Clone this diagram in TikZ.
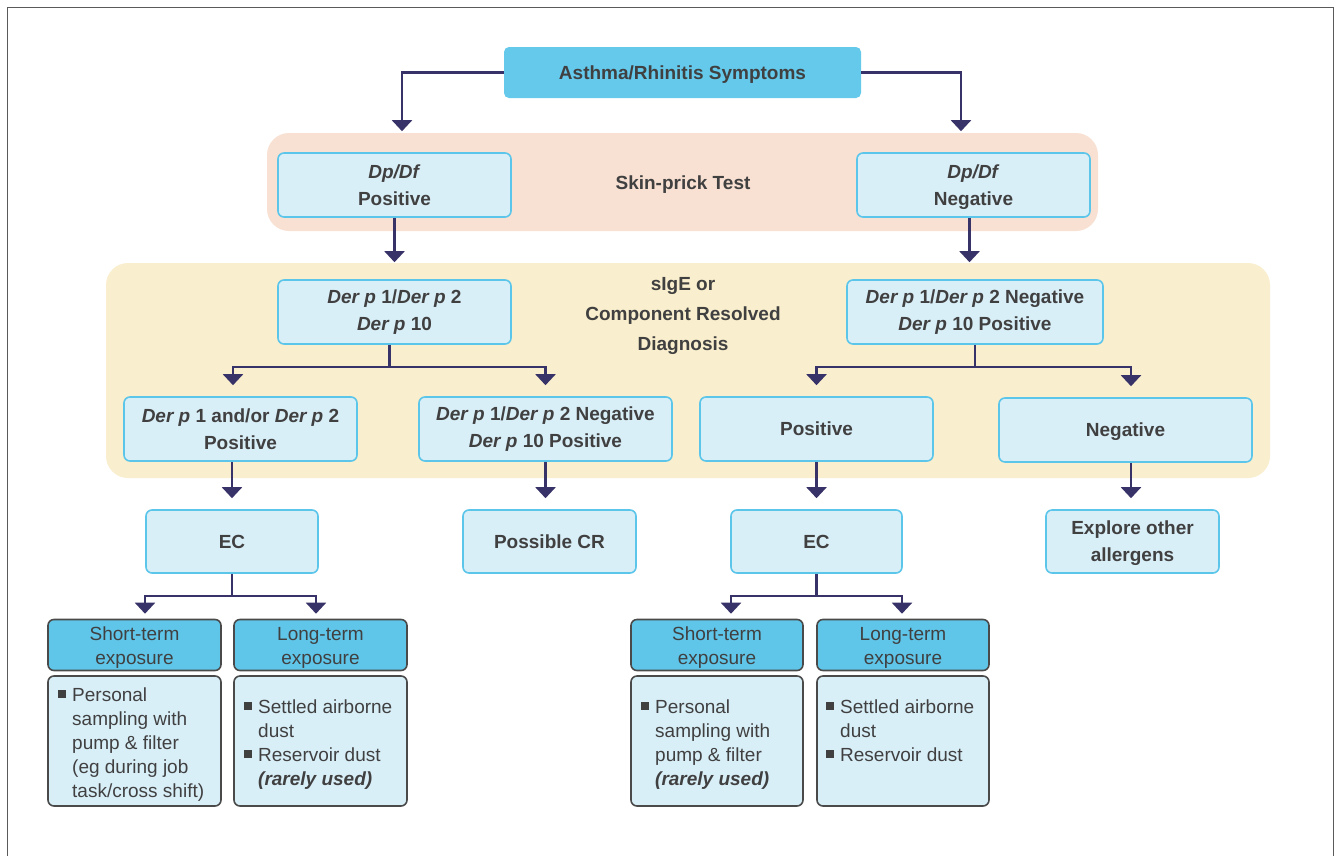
\documentclass[tikz,border=0pt]{standalone}
\usepackage{fontspec}
\setmainfont{Liberation Sans}
\usetikzlibrary{arrows.meta}
\definecolor{topcyan}{HTML}{64C9EB}
\definecolor{hcyan}{HTML}{5FC6E9}
\definecolor{lblue}{HTML}{D9EFF8}
\definecolor{bcyan}{HTML}{5CC5EA}
\definecolor{peach}{HTML}{F8E1D2}
\definecolor{ylw}{HTML}{F9EECD}
\definecolor{navy}{HTML}{373267}
\definecolor{txt}{HTML}{404041}
\definecolor{dborder}{HTML}{4A4A4A}
\definecolor{frame}{HTML}{5A5A5A}
\newcommand{\bul}{\llap{\textcolor{txt}{\rule[3.5pt]{8pt}{8pt}}\hspace{6.5pt}}}
\begin{document}
\begin{tikzpicture}[x=1pt,y=-1pt,
  region/.style={rounded corners=22pt, inner sep=0pt},
  topbox/.style={fill=topcyan, rounded corners=5pt, text=txt, inner sep=0pt,
    text depth=0pt, font=\fontsize{19}{27}\selectfont\bfseries},
  bbox/.style={fill=lblue, draw=bcyan, line width=1.6pt, rounded corners=6pt,
    text=txt, align=center, inner sep=0pt, minimum height=64pt,
    font=\fontsize{19}{27}\selectfont\bfseries},
  plain/.style={text=txt, inner sep=0pt, align=center,
    font=\fontsize{19}{27}\selectfont\bfseries},
  hbox/.style={fill=hcyan, draw=dborder, line width=1.6pt, rounded corners=6pt,
    text=txt, align=center, inner sep=0pt, minimum width=173pt, minimum height=51pt,
    font=\fontsize{19}{24}\selectfont},
  dbox/.style={fill=lblue, draw=dborder, line width=1.6pt, rounded corners=6pt,
    inner sep=0pt, minimum width=173pt, minimum height=130pt},
  dtext/.style={text=txt, inner sep=0pt, align=left, anchor=north west,
    font=\fontsize{19}{24}\selectfont},
  arr/.style={draw=navy, line width=2.1pt, -{Triangle[width=20pt,length=11pt]}},
  ln/.style={draw=navy, line width=2.1pt}
]
\useasboundingbox (0,0) rectangle (1341,855);
\fill[white] (0,0) rectangle (1341,855);
\draw[frame, line width=1.2pt] (7.5,860) -- (7.5,7.5) -- (1333.5,7.5) -- (1333.5,860);

% regions
\node[region, fill=peach, minimum width=831pt, minimum height=98pt] (skin) at (682.5,182) {};
\node[region, fill=ylw, minimum width=1164pt, minimum height=215pt] (crd) at (688,370.5) {};

% nodes
\node[topbox, minimum width=357pt, minimum height=51pt] (top) at (682.5,72.5) {Asthma/Rhinitis Symptoms};
\node[bbox, minimum width=233pt] (pos) at (394.5,185) {\textit{Dp/Df}\\Positive};
\node[bbox, minimum width=233pt] (neg) at (973.5,185) {\rule{0pt}{17.5pt}\textit{Dp/Df}\\Negative};
\node[plain] (skint) at (683,185) {Skin-prick Test};
\node[plain, font=\fontsize{19}{30}\selectfont\bfseries] (crdt) at (683,316) {sIgE or\\Component Resolved\\Diagnosis};
\node[bbox, minimum width=233pt] (A) at (394.5,312) {\textit{Der p} 1/\textit{Der p} 2\\\textit{Der p} 10};
\node[bbox, minimum width=256pt] (C) at (975,312) {\textit{Der p} 1/\textit{Der p} 2 Negative\\\textit{Der p} 10 Positive};
\node[bbox, minimum width=233pt] (B1) at (240.5,429) {\textit{Der p} 1 and/or \textit{Der p} 2\\Positive};
\node[bbox, minimum width=253pt] (B2) at (545.5,429) {\textit{Der p} 1/\textit{Der p} 2 Negative\\\textit{Der p} 10 Positive};
\node[bbox, minimum width=233pt] (P) at (816.5,429) {Positive};
\node[bbox, minimum width=253pt, text depth=0pt] (N) at (1125.5,430) {Negative};
\node[bbox, minimum width=172pt, minimum height=63pt] (EC1) at (232,541.5) {EC};
\node[bbox, minimum width=173pt, minimum height=63pt] (CR) at (549.5,541.5) {Possible CR};
\node[bbox, minimum width=171pt, minimum height=63pt] (EC2) at (816.5,541.5) {EC};
\node[bbox, minimum width=173pt, minimum height=63pt] (EX) at (1132.5,541.5) {\rule{0pt}{17pt}Explore other\\allergens};

\node[hbox] (S1) at (134.5,645) {\rule{0pt}{19pt}Short-term\\exposure};
\node[hbox] (L1) at (320.5,645) {\rule{0pt}{19pt}Long-term\\exposure};
\node[hbox, minimum width=172pt] (S2) at (717,645) {\rule{0pt}{19pt}Short-term\\exposure};
\node[hbox, minimum width=172pt] (L2) at (903,645) {\rule{0pt}{19pt}Long-term\\exposure};

\node[dbox] (D1) at (134.5,741) {};
\node[dbox] (D2) at (320.5,741) {};
\node[dbox, minimum width=172pt] (D3) at (717,741) {};
\node[dbox, minimum width=172pt] (D4) at (903,741) {};

\node[dtext] (D1t) at (72,686) {\rule{0pt}{15pt}\bul Personal\\sampling with\\pump \& filter\\(eg during job\\task/cross shift)};
\node[dtext] (D2t) at (258,698) {\rule{0pt}{15pt}\bul Settled airborne\\dust\\\bul Reservoir dust\\\textbf{\textit{(rarely used)}}};
\node[dtext] (D3t) at (655,698) {\rule{0pt}{15pt}\bul Personal\\sampling with\\pump \& filter\\\textbf{\textit{(rarely used)}}};
\node[dtext] (D4t) at (840,698) {\rule{0pt}{15pt}\bul Settled airborne\\dust\\\bul Reservoir dust};

% connectors
\draw[arr, shorten >=21pt] (top.west) -| ([xshift=7.5pt]pos.north);
\draw[arr, shorten >=21pt] (top.east) -| ([xshift=-12.5pt]neg.north);
\draw[arr, shorten >=17pt] (pos.south) -- (pos.south |- A.north);
\draw[arr, shorten >=17pt] ([xshift=-4pt]neg.south) -- ([xshift=-4pt]neg.south |- C.north);

\draw[ln] ([xshift=-5pt]A.south) -- ++(0,22) coordinate (fa);
\draw[arr, shorten >=11pt] (fa) -| ([xshift=-7.5pt]B1.north);
\draw[arr, shorten >=11pt] (fa) -| (B2.north);

\draw[ln] (C.south) -- ++(0,22) coordinate (fc);
\draw[arr, shorten >=11pt] (fc) -| (P.north);
\draw[arr, shorten >=11pt] (fc) -| ([xshift=5.5pt]N.north);

\draw[arr, shorten >=11pt] (EC1.north |- B1.south) -- (EC1.north);
\draw[arr, shorten >=11pt] (B2.south) -- (B2.south |- CR.north);
\draw[arr, shorten >=11pt] (P.south) -- (EC2.north);
\draw[arr, shorten >=11pt] ([xshift=-1.5pt]EX.north |- N.south) -- ([xshift=-1.5pt]EX.north);

\draw[ln] (EC1.south) -- ++(0,22) coordinate (fe1);
\draw[arr, shorten >=5pt] (fe1) -| ([xshift=10.5pt]S1.north);
\draw[arr, shorten >=5pt] (fe1) -| ([xshift=-4.5pt]L1.north);

\draw[ln] (EC2.south) -- ++(0,22) coordinate (fe2);
\draw[arr, shorten >=5pt] (fe2) -| ([xshift=14pt]S2.north);
\draw[arr, shorten >=5pt] (fe2) -| ([xshift=-1pt]L2.north);
\end{tikzpicture}
\end{document}
